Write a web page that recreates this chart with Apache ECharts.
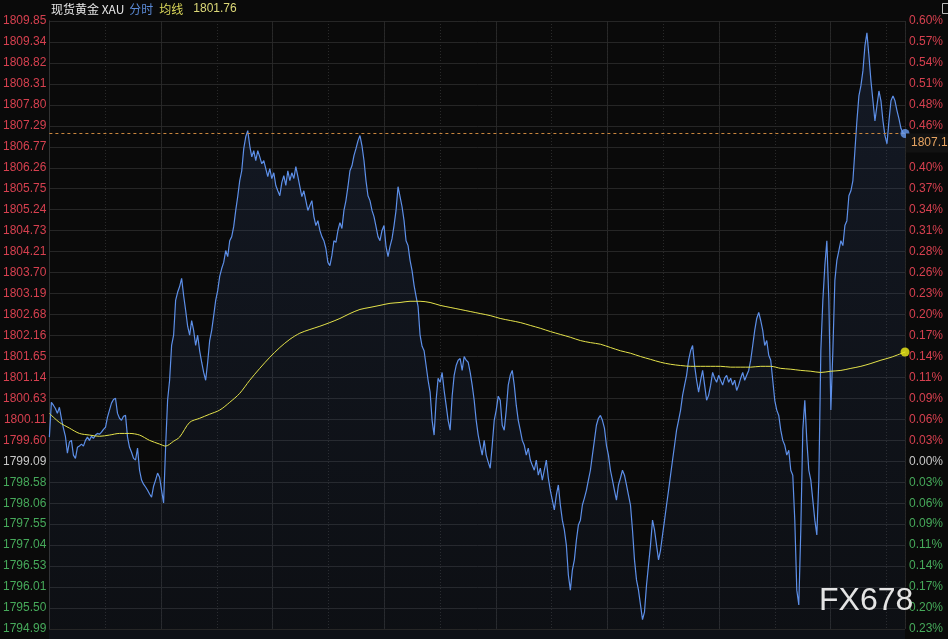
<!DOCTYPE html>
<html><head><meta charset="utf-8">
<script src="https://cdn.jsdelivr.net/npm/echarts/dist/echarts.min.js"></script>
<style>html,body{margin:0;padding:0;background:#0a0a0a}#c{width:948px;height:639px}</style>
</head><body><div id="c"></div><script>
// ---- data ----
const title = '现货黄金 XAU';
const modeLabel = '分时';
const avgLabel = '均线';
const avgLast = '1801.76';
const watermark = 'FX678';

const priceTickLabels = ['1809.85','1809.34','1808.82','1808.31','1807.80','1807.29','1806.77','1806.26','1805.75','1805.24','1804.73','1804.21','1803.70','1803.19','1802.68','1802.16','1801.65','1801.14','1800.63','1800.11','1799.60','1799.09','1798.58','1798.06','1797.55','1797.04','1796.53','1796.01','1795.50','1794.99'];
const pctTickLabels = ['0.60%','0.57%','0.54%','0.51%','0.48%','0.46%','0.43%','0.40%','0.37%','0.34%','0.31%','0.28%','0.26%','0.23%','0.20%','0.17%','0.14%','0.11%','0.09%','0.06%','0.03%','0.00%','0.03%','0.06%','0.09%','0.11%','0.14%','0.17%','0.20%','0.23%'];
const ZERO_ROW = 21;
const priceMin = 1794.99, priceMax = 1809.85;
const sessionMinutes = 1380;

const prices = [
1799.68,1800.53,1800.46,1800.38,1800.26,1800.41,1800.14,1799.90,1799.70,1799.29,
1799.56,1799.60,1799.24,1799.16,1799.43,1799.46,1799.51,1799.46,1799.60,1799.68,
1799.60,1799.70,1799.65,1799.73,1799.77,1799.75,1799.80,1799.87,1799.92,1800.17,
1800.34,1800.51,1800.60,1800.63,1800.26,1800.14,1800.09,1800.19,1800.21,1799.68,
1799.43,1799.31,1799.16,1799.12,1799.41,1798.87,1798.63,1798.53,1798.46,1798.38,
1798.29,1798.21,1798.48,1798.63,1798.80,1798.70,1798.38,1798.07,1799.43,1800.58,
1801.07,1801.92,1802.17,1803.02,1803.22,1803.36,1803.56,1803.14,1802.78,1802.39,
1802.17,1802.53,1802.29,1801.92,1802.17,1801.79,1801.51,1801.26,1801.07,1801.51,
1802.04,1802.29,1802.65,1803.02,1803.26,1803.61,1803.80,1803.95,1804.24,1804.09,
1804.48,1804.58,1804.83,1805.22,1805.56,1805.95,1806.19,1806.73,1807.02,1807.17,
1806.80,1806.53,1806.68,1806.44,1806.68,1806.53,1806.36,1806.44,1806.24,1806.05,
1806.24,1806.00,1806.14,1805.83,1805.70,1805.58,1805.90,1806.07,1805.83,1806.19,
1805.95,1806.14,1806.00,1806.29,1806.05,1805.80,1805.56,1805.70,1805.46,1805.22,
1805.34,1805.46,1805.07,1804.85,1804.97,1804.73,1804.58,1804.48,1804.29,1803.95,
1803.87,1804.12,1804.48,1804.44,1804.73,1804.92,1804.78,1805.22,1805.46,1805.80,
1806.19,1806.31,1806.56,1806.73,1806.92,1807.05,1806.80,1806.44,1805.95,1805.58,
1805.46,1805.22,1805.07,1804.83,1804.58,1804.48,1804.73,1804.85,1804.34,1804.09,
1804.34,1804.53,1804.85,1805.22,1805.80,1805.56,1805.31,1804.97,1804.48,1804.36,
1804.00,1803.75,1803.39,1803.12,1802.87,1802.17,1801.90,1801.79,1801.43,1801.07,
1800.78,1800.09,1799.73,1800.58,1801.12,1801.02,1801.26,1800.82,1800.46,1800.09,
1799.85,1800.68,1801.19,1801.43,1801.56,1801.60,1801.31,1801.65,1801.56,1801.51,
1801.26,1800.95,1800.58,1800.09,1799.73,1799.48,1799.24,1799.60,1799.24,1799.07,
1798.92,1799.48,1800.09,1800.34,1800.68,1800.58,1799.97,1799.85,1800.34,1800.95,
1801.19,1801.31,1800.95,1800.46,1800.09,1799.85,1799.60,1799.48,1799.24,1799.41,
1799.12,1798.99,1798.87,1799.12,1798.75,1798.92,1798.63,1798.87,1799.12,1798.68,
1798.38,1798.14,1797.90,1798.26,1798.51,1798.02,1797.65,1797.41,1797.04,1796.31,
1795.94,1796.43,1796.68,1797.16,1797.53,1797.65,1798.02,1798.19,1798.38,1798.63,
1798.87,1799.24,1799.60,1799.97,1800.14,1800.21,1800.09,1799.90,1799.48,1799.24,
1798.87,1798.63,1798.38,1798.14,1798.51,1798.68,1798.87,1798.75,1798.51,1798.26,
1798.02,1797.41,1796.68,1796.19,1795.94,1795.58,1795.22,1795.41,1796.06,1796.55,
1797.04,1797.65,1797.41,1797.04,1796.68,1796.92,1797.29,1797.65,1798.02,1798.38,
1798.75,1799.12,1799.48,1799.85,1800.09,1800.34,1800.70,1800.95,1801.19,1801.56,
1801.79,1801.92,1801.43,1801.07,1800.78,1801.07,1801.31,1800.95,1800.58,1800.70,
1800.95,1801.26,1801.12,1801.02,1801.19,1801.07,1800.95,1801.12,1801.19,1801.02,
1801.12,1800.95,1801.07,1800.82,1800.95,1801.12,1801.26,1801.07,1801.19,1801.31,
1801.56,1801.92,1802.29,1802.58,1802.73,1802.53,1802.29,1801.92,1802.04,1801.68,
1801.56,1801.07,1800.58,1800.34,1800.21,1799.85,1799.60,1799.48,1799.24,1799.36,
1798.87,1798.75,1797.65,1795.94,1795.58,1797.41,1799.85,1800.58,1799.60,1798.87,
1798.63,1798.14,1797.65,1797.29,1798.63,1801.79,1803.02,1803.87,1804.48,1803.02,
1800.34,1801.79,1803.51,1804.00,1804.24,1804.48,1804.36,1804.85,1804.97,1805.58,
1805.70,1805.95,1806.68,1807.41,1808.02,1808.27,1808.63,1809.24,1809.56,1809.00,
1808.39,1807.90,1807.41,1807.78,1808.14,1807.90,1807.41,1807.05,1806.85,1807.41,
1807.90,1808.02,1807.90,1807.66,1807.46,1807.22,1807.12,1807.10
];
const avgSlots = [0,5,10,15,20,25,30,35,40,45,50,55,58,62,65,70,75,80,85,90,95,100,105,110,115,120,125,130,135,140,145,150,155,160,165,170,175,180,185,190,195,200,205,210,215,220,225,230,235,240,245,250,255,260,265,270,275,280,285,290,295,300,305,310,315,320,325,330,335,340,345,350,355,360,365,370,375,380,385,390,395,400,405,410,415,420,427];
const avgValues = [1800.26,1800.04,1799.90,1799.77,1799.73,1799.70,1799.73,1799.77,1799.77,1799.73,1799.60,1799.51,1799.46,1799.58,1799.68,1800.04,1800.14,1800.24,1800.34,1800.53,1800.75,1801.07,1801.36,1801.63,1801.87,1802.07,1802.22,1802.31,1802.39,1802.48,1802.58,1802.70,1802.80,1802.85,1802.90,1802.95,1802.97,1803.00,1803.00,1802.97,1802.90,1802.85,1802.80,1802.75,1802.70,1802.65,1802.58,1802.53,1802.48,1802.41,1802.34,1802.26,1802.19,1802.12,1802.04,1801.99,1801.95,1801.87,1801.79,1801.73,1801.65,1801.58,1801.51,1801.46,1801.43,1801.41,1801.41,1801.41,1801.41,1801.39,1801.39,1801.39,1801.41,1801.41,1801.36,1801.34,1801.31,1801.29,1801.26,1801.29,1801.31,1801.36,1801.41,1801.48,1801.56,1801.63,1801.76];

// ---- chart ----
const categories = prices.map((_, i) => i);
const lastIdx = prices.length - 1;
const lastPrice = prices[lastIdx];
const RED = '#d6404f', GREEN = '#46a95a', GRAY = '#c8c8c8';
const rowColor = r => r < ZERO_ROW ? RED : (r === ZERO_ROW ? GRAY : GREEN);
const GRID = '#262626';
const LBL_FONT = 'Liberation Sans, Arial, sans-serif';
const CJK_FONT = 'Noto Sans CJK SC, sans-serif';

const chart = echarts.init(document.getElementById('c'), null, {renderer: 'canvas'});
const option = {
  backgroundColor: '#0a0a0a',
  animation: false,
  grid: {left: 49, right: 43, top: 21, bottom: 10},
  xAxis: [
    {type: 'category', data: categories, boundaryGap: false, show: false},
    {type: 'value', min: 0, max: sessionMinutes, interval: 180, position: 'bottom',
     axisLine: {show: false}, axisTick: {show: false}, axisLabel: {show: false},
     splitLine: {show: true, lineStyle: {color: GRID, width: 1}}},
    {type: 'value', min: 0, max: sessionMinutes, interval: 90, position: 'top',
     axisLine: {show: false}, axisTick: {show: false}, axisLabel: {show: false},
     splitLine: {show: true, lineStyle: {color: '#2a2a2a', width: 1, type: [1, 2]}}}
  ],
  yAxis: [
    {type: 'value', min: 0, max: 29, interval: 1, position: 'left',
     axisLine: {show: true, lineStyle: {color: '#2a2a2a'}}, axisTick: {show: false},
     splitLine: {show: true, lineStyle: {color: GRID, width: 1}},
     axisLabel: {margin: 3, fontSize: 12, fontFamily: LBL_FONT,
       formatter: v => priceTickLabels[29 - v],
       color: v => rowColor(29 - v)}},
    {type: 'value', min: 0, max: 29, interval: 1, position: 'right',
     axisLine: {show: true, lineStyle: {color: '#333'}}, axisTick: {show: false},
     splitLine: {show: false},
     axisLabel: {margin: 4, fontSize: 12, fontFamily: LBL_FONT,
       formatter: v => pctTickLabels[29 - v],
       color: v => rowColor(29 - v)}},
    {type: 'value', min: priceMin, max: priceMax, show: false, splitLine: {show: false}}
  ],
  series: [
    {name: 'price', type: 'line', xAxisIndex: 0, yAxisIndex: 2, data: prices,
     symbol: 'none', lineStyle: {color: '#5d8fe8', width: 1.2},
     areaStyle: {origin: 'start', color: new echarts.graphic.LinearGradient(0, 0, 0, 1, [
       {offset: 0, color: 'rgba(60,90,150,0.28)'},
       {offset: 1, color: 'rgba(40,60,100,0.16)'}])},
     markLine: {silent: true, symbol: 'none', label: {show: false},
       lineStyle: {color: '#c8853e', type: [3, 3], width: 1},
       data: [{yAxis: lastPrice}]},
     z: 3},
    {name: 'avg', type: 'line', xAxisIndex: 0, yAxisIndex: 2,
     data: avgSlots.map((s, i) => [s, avgValues[i]]), smooth: 0.3,
     symbol: 'none', lineStyle: {color: '#e4e24a', width: 1}, z: 4},
    {type: 'scatter', xAxisIndex: 0, yAxisIndex: 2, symbolSize: 9,
     data: [[lastIdx, lastPrice]], itemStyle: {color: '#6a9cf0'}, z: 6},
    {type: 'scatter', xAxisIndex: 0, yAxisIndex: 2, symbolSize: 9,
     data: [[avgSlots[avgSlots.length - 1], avgValues[avgValues.length - 1]]],
     itemStyle: {color: '#f2f018'}, z: 6}
  ],
  graphic: [
    {type: 'rect', id: 'bottomStrip', left: 49, top: 630, z: -1,
     shape: {width: 856, height: 9}, style: {fill: '#0e1117'}},
    {type: 'text', id: 'hdr', left: 51, top: 3, z: 10,
     style: {text: '{w|' + title + '}{b|' + modeLabel + '}{y|' + avgLabel + '}{v|' + avgLast + '}',
       rich: {
         w: {fill: '#e6e6e6', fontSize: 12, fontFamily: CJK_FONT, padding: [0, 5, 0, 0]},
         b: {fill: '#5b8ad6', fontSize: 12, fontFamily: CJK_FONT, padding: [0, 6, 0, 0]},
         y: {fill: '#dcd85a', fontSize: 12, fontFamily: CJK_FONT, padding: [0, 10, 0, 0]},
         v: {fill: '#dcd878', fontSize: 12, fontFamily: LBL_FONT}
       }}},
    {type: 'text', id: 'wm', left: 819, top: 585, z: 10,
     style: {text: watermark, fill: '#e4e4e4', fontSize: 32, fontFamily: LBL_FONT}},
    {type: 'rect', id: 'icon', left: 940, top: 1, z: 10,
     shape: {width: 8, height: 10}, style: {fill: 'none', stroke: '#bbbbbb', lineWidth: 1}}
  ]
};
chart.setOption(option);

const yLast = chart.convertToPixel({yAxisIndex: 2}, lastPrice);
chart.setOption({graphic: [
  {type: 'rect', id: 'curBox', left: 906, top: yLast, z: 20,
   shape: {width: 42, height: 19}, style: {fill: '#121212'}},
  {type: 'text', id: 'curTxt', left: 911, top: yLast + 3, z: 21,
   style: {text: lastPrice.toFixed(2), fill: '#e6a462', fontSize: 12, fontFamily: LBL_FONT}}
]});
</script></body></html>
